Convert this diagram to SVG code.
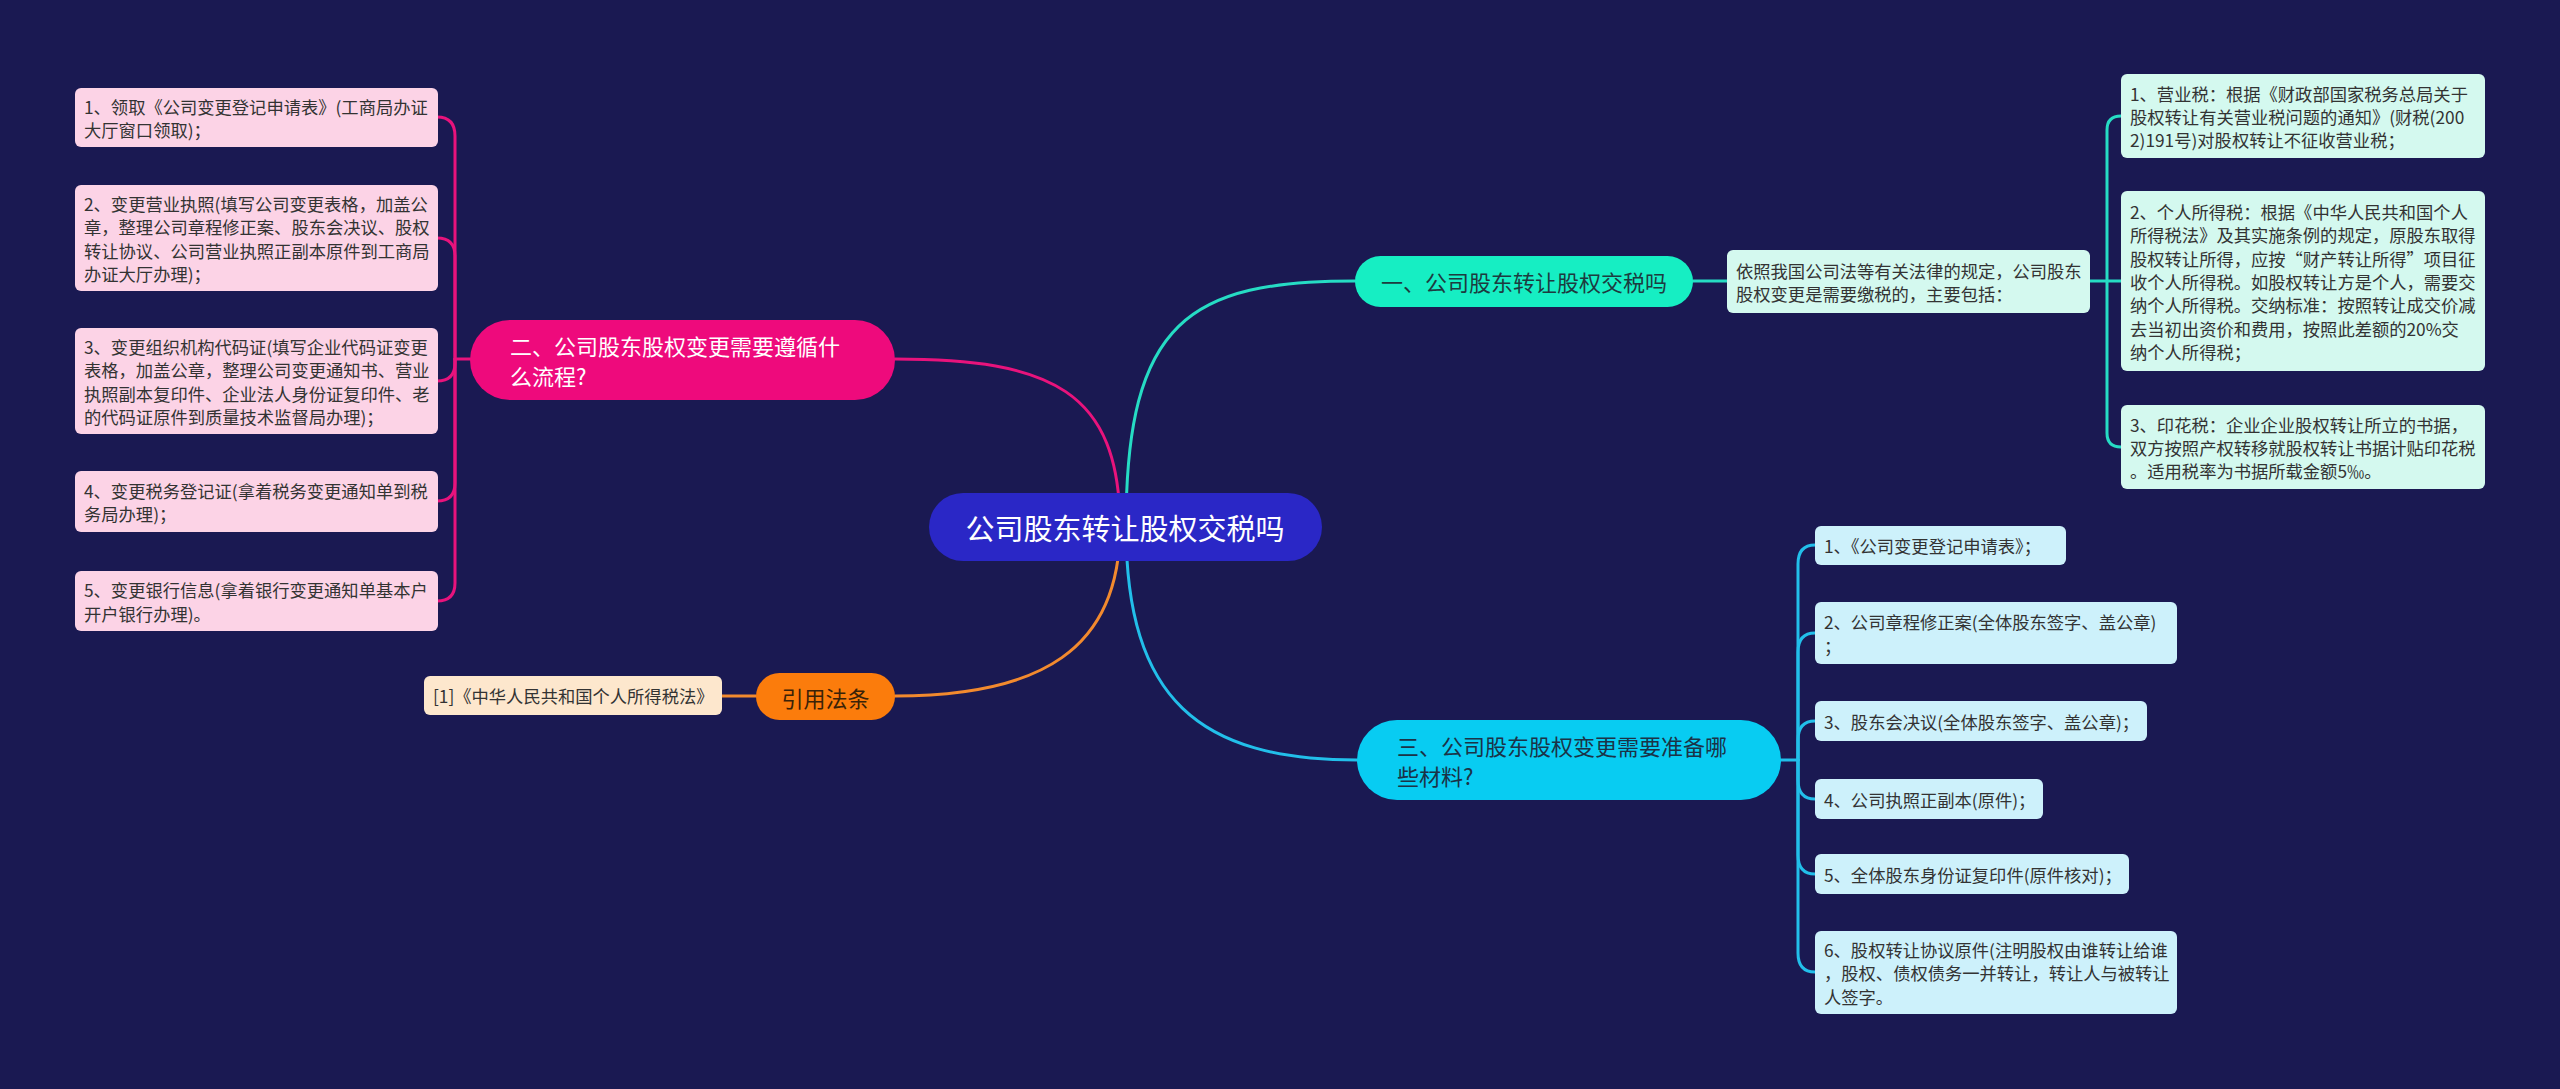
<svg xmlns="http://www.w3.org/2000/svg" width="2560" height="1089" viewBox="0 0 2560 1089">
<style>
text{font-family:"Noto Sans CJK SC","Noto Sans",sans-serif;dominant-baseline:central}
.leaf{font-size:17.3px;fill:#333333}
.br{font-size:22px}
.c{fill:none;stroke-width:3;stroke-linecap:round}
.pk{stroke:#e8137c}.tl{stroke:#26dcc4}.cy{stroke:#22bfea}.or{stroke:#f28a2e}
.pkbox{fill:#fcd3e6}.tlbox{fill:#d4f9ef}.cybox{fill:#cdf1fb}.orbox{fill:#fde7cd}
</style>
<rect width="2560" height="1089" fill="#1a1952"/>
<g id="connectors">
<path class="c tl" d="M1126,527 C1126,320 1190,281 1355,281"/>
<path class="c pk" d="M1120,527 C1120,390 1050,359 895,359"/>
<path class="c or" d="M1120,527 C1120,650 1040,696 895,696"/>
<path class="c cy" d="M1126,527 C1126,700 1200,760 1357,760"/>
<path class="c tl" d="M1693,281 H1727"/>
<path class="c tl" d="M2090,281 H2121"/>
<path class="c tl" d="M2107,281 V130 Q2107,116 2121,116"/>
<path class="c tl" d="M2107,281 V433 Q2107,447 2121,447"/>
<path class="c pk" d="M470,359 H455"/>
<path class="c pk" d="M455,359 V136 Q455,117 437,117"/>
<path class="c pk" d="M455,359 V256 Q455,238 437,238"/>
<path class="c pk" d="M455,359 V363 Q455,381 437,381"/>
<path class="c pk" d="M455,359 V483 Q455,501 437,501"/>
<path class="c pk" d="M455,359 V583 Q455,601 437,601"/>
<path class="c cy" d="M1781,760 H1798"/>
<path class="c cy" d="M1798,760 V564 Q1798,545 1815,545"/>
<path class="c cy" d="M1798,760 V652 Q1798,633 1815,633"/>
<path class="c cy" d="M1798,760 V740 Q1798,721 1815,721"/>
<path class="c cy" d="M1798,760 V780 Q1798,799 1815,799"/>
<path class="c cy" d="M1798,760 V855 Q1798,874 1815,874"/>
<path class="c cy" d="M1798,760 V953 Q1798,972 1815,972"/>
<path class="c or" d="M756,696 H722"/>
</g>
<g id="root">
<rect x="929" y="493" width="393" height="68" rx="34" fill="#2a27c6"/>
<text x="1125" y="527" font-size="29" fill="#ffffff" text-anchor="middle">公司股东转让股权交税吗</text>
</g>
<g id="b1">
<rect x="1355" y="256" width="338" height="51" rx="25.5" fill="#16eec3"/>
<text class="br" x="1524" y="281" fill="#1d3b3f" text-anchor="middle">一、公司股东转让股权交税吗</text>
</g>
<g id="b1-desc">
<rect class="tlbox" x="1727" y="250" width="363" height="63" rx="6"/>
<text class="leaf" x="1736" y="270">依照我国公司法等有关法律的规定，公司股东</text>
<text class="leaf" x="1736" y="293">股权变更是需要缴税的，主要包括：</text>
</g>
<g id="b1-c1">
<rect class="tlbox" x="2121" y="74" width="364" height="84" rx="6"/>
<text class="leaf" x="2130" y="93">1、营业税：根据《财政部国家税务总局关于</text>
<text class="leaf" x="2130" y="116">股权转让有关营业税问题的通知》(财税(200</text>
<text class="leaf" x="2130" y="139">2)191号)对股权转让不征收营业税；</text>
</g>
<g id="b1-c2">
<rect class="tlbox" x="2121" y="191" width="364" height="180" rx="6"/>
<text class="leaf" x="2130" y="211">2、个人所得税：根据《中华人民共和国个人</text>
<text class="leaf" x="2130" y="234">所得税法》及其实施条例的规定，原股东取得</text>
<text class="leaf" x="2130" y="258">股权转让所得，应按“财产转让所得”项目征</text>
<text class="leaf" x="2130" y="281">收个人所得税。如股权转让方是个人，需要交</text>
<text class="leaf" x="2130" y="304">纳个人所得税。交纳标准：按照转让成交价减</text>
<text class="leaf" x="2130" y="328">去当初出资价和费用，按照此差额的20%交</text>
<text class="leaf" x="2130" y="351">纳个人所得税；</text>
</g>
<g id="b1-c3">
<rect class="tlbox" x="2121" y="405" width="364" height="84" rx="6"/>
<text class="leaf" x="2130" y="424">3、印花税：企业企业股权转让所立的书据，</text>
<text class="leaf" x="2130" y="447">双方按照产权转移就股权转让书据计贴印花税</text>
<text class="leaf" x="2130" y="470">。适用税率为书据所载金额5‰。</text>
</g>
<g id="b2">
<rect x="470" y="320" width="425" height="80" rx="40" fill="#ee0a7c"/>
<text class="br" x="510" y="345" fill="#ffffff">二、公司股东股权变更需要遵循什</text>
<text class="br" x="510" y="375" fill="#ffffff">么流程?</text>
</g>
<g id="b2-c1">
<rect class="pkbox" x="75" y="88" width="363" height="59" rx="6"/>
<text class="leaf" x="84" y="106">1、领取《公司变更登记申请表》(工商局办证</text>
<text class="leaf" x="84" y="129">大厅窗口领取)；</text>
</g>
<g id="b2-c2">
<rect class="pkbox" x="75" y="185" width="363" height="106" rx="6"/>
<text class="leaf" x="84" y="203">2、变更营业执照(填写公司变更表格，加盖公</text>
<text class="leaf" x="84" y="226">章，整理公司章程修正案、股东会决议、股权</text>
<text class="leaf" x="84" y="250">转让协议、公司营业执照正副本原件到工商局</text>
<text class="leaf" x="84" y="273">办证大厅办理)；</text>
</g>
<g id="b2-c3">
<rect class="pkbox" x="75" y="328" width="363" height="106" rx="6"/>
<text class="leaf" x="84" y="346">3、变更组织机构代码证(填写企业代码证变更</text>
<text class="leaf" x="84" y="369">表格，加盖公章，整理公司变更通知书、营业</text>
<text class="leaf" x="84" y="393">执照副本复印件、企业法人身份证复印件、老</text>
<text class="leaf" x="84" y="416">的代码证原件到质量技术监督局办理)；</text>
</g>
<g id="b2-c4">
<rect class="pkbox" x="75" y="471" width="363" height="61" rx="6"/>
<text class="leaf" x="84" y="490">4、变更税务登记证(拿着税务变更通知单到税</text>
<text class="leaf" x="84" y="513">务局办理)；</text>
</g>
<g id="b2-c5">
<rect class="pkbox" x="75" y="571" width="363" height="60" rx="6"/>
<text class="leaf" x="84" y="589">5、变更银行信息(拿着银行变更通知单基本户</text>
<text class="leaf" x="84" y="613">开户银行办理)。</text>
</g>
<g id="b3">
<rect x="1357" y="720" width="424" height="80" rx="40" fill="#08ccf2"/>
<text class="br" x="1397" y="745" fill="#1b3347">三、公司股东股权变更需要准备哪</text>
<text class="br" x="1397" y="775" fill="#1b3347">些材料?</text>
</g>
<g id="b3-c1">
<rect class="cybox" x="1815" y="526" width="251" height="39" rx="6"/>
<text class="leaf" x="1824" y="545.5">1、《公司变更登记申请表》；</text>
</g>
<g id="b3-c2">
<rect class="cybox" x="1815" y="602" width="362" height="62" rx="6"/>
<text class="leaf" x="1824" y="621.5">2、公司章程修正案(全体股东签字、盖公章)</text>
<text class="leaf" x="1824" y="645">；</text>
</g>
<g id="b3-c3">
<rect class="cybox" x="1815" y="701" width="332" height="40" rx="6"/>
<text class="leaf" x="1824" y="721">3、股东会决议(全体股东签字、盖公章)；</text>
</g>
<g id="b3-c4">
<rect class="cybox" x="1815" y="779" width="228" height="40" rx="6"/>
<text class="leaf" x="1824" y="799">4、公司执照正副本(原件)；</text>
</g>
<g id="b3-c5">
<rect class="cybox" x="1815" y="854" width="314" height="40" rx="6"/>
<text class="leaf" x="1824" y="874">5、全体股东身份证复印件(原件核对)；</text>
</g>
<g id="b3-c6">
<rect class="cybox" x="1815" y="931" width="362" height="83" rx="6"/>
<text class="leaf" x="1824" y="949">6、股权转让协议原件(注明股权由谁转让给谁</text>
<text class="leaf" x="1824" y="972.5">，股权、债权债务一并转让，转让人与被转让</text>
<text class="leaf" x="1824" y="996">人签字。</text>
</g>
<g id="b4">
<rect x="756" y="673" width="139" height="47" rx="23.5" fill="#fb7c0c"/>
<text class="br" x="825.5" y="696.5" fill="#3a2208" text-anchor="middle">引用法条</text>
</g>
<g id="b4-c1">
<rect class="orbox" x="424" y="676" width="298" height="39" rx="6"/>
<text class="leaf" x="433" y="695.5">[1]《中华人民共和国个人所得税法》</text>
</g>
</svg>
